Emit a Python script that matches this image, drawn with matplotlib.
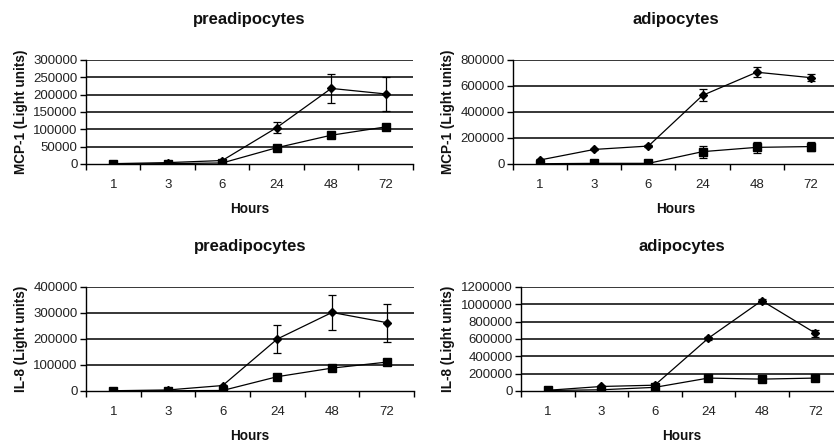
import matplotlib
matplotlib.use("Agg")
import matplotlib.pyplot as plt
from matplotlib.ticker import FixedLocator, NullFormatter

plt.rcParams['font.family'] = ['Liberation Sans', 'DejaVu Sans']

hours = ["1", "3", "6", "24", "48", "72"]

# MCP-1 preadipocytes
mcp_pre_d = [1000, 4000, 10000, 105000, 218000, 202000]
mcp_pre_d_err = [500, 1000, 2000, 17000, 43000, 48000]
mcp_pre_s = [0, 1000, 3000, 47000, 83000, 107000]
mcp_pre_s_err = [300, 500, 1000, 3000, 4000, 5000]

# MCP-1 adipocytes
mcp_adi_d = [31000, 112000, 138000, 528000, 706000, 664000]
mcp_adi_d_err = [5000, 6000, 6000, 45000, 40000, 28000]
mcp_adi_s = [2000, 5000, 5000, 95000, 128000, 134000]
mcp_adi_s_err = [1000, 2000, 2000, 47000, 40000, 32000]

# IL-8 preadipocytes
il8_pre_d = [1000, 4000, 21000, 200000, 302000, 263000]
il8_pre_d_err = [500, 1000, 3000, 55000, 68000, 73000]
il8_pre_s = [0, 1000, 2000, 55000, 88000, 111000]
il8_pre_s_err = [300, 500, 1000, 12000, 6000, 12000]

# IL-8 adipocytes
il8_adi_d = [8000, 52000, 67000, 608000, 1042000, 668000]
il8_adi_d_err = [2000, 5000, 5000, 15000, 20000, 40000]
il8_adi_s = [6000, 14000, 42000, 149000, 137000, 149000]
il8_adi_s_err = [2000, 3000, 4000, 10000, 8000, 10000]

panels = [
    dict(rect=[0.1031, 0.6298, 0.3921, 0.2348], title="preadipocytes",
         ylabel="MCP-1 (Light units)", yticks=[0, 50000, 100000, 150000, 200000, 250000, 300000],
         d=mcp_pre_d, de=mcp_pre_d_err, s=mcp_pre_s, se=mcp_pre_s_err),
    dict(rect=[0.6151, 0.6298, 0.3897, 0.2348], title="adipocytes",
         ylabel="MCP-1 (Light units)", yticks=[0, 200000, 400000, 600000, 800000],
         d=mcp_adi_d, de=mcp_adi_d_err, s=mcp_adi_s, se=mcp_adi_s_err),
    dict(rect=[0.1031, 0.1174, 0.3933, 0.2348], title="preadipocytes",
         ylabel="IL-8 (Light units)", yticks=[0, 100000, 200000, 300000, 400000],
         d=il8_pre_d, de=il8_pre_d_err, s=il8_pre_s, se=il8_pre_s_err),
    dict(rect=[0.6247, 0.1174, 0.3849, 0.2348], title="adipocytes",
         ylabel="IL-8 (Light units)", yticks=[0, 200000, 400000, 600000, 800000, 1000000, 1200000],
         d=il8_adi_d, de=il8_adi_d_err, s=il8_adi_s, se=il8_adi_s_err),
]

fig = plt.figure(figsize=(8.34, 4.43), dpi=100)
x = list(range(len(hours)))

for p in panels:
    ax = fig.add_axes(p["rect"])
    ax.errorbar(x, p["s"], yerr=p["se"], color="black", marker="s", markersize=6,
                linewidth=0.9, elinewidth=0.9, capsize=3, capthick=0.9, zorder=3)
    ax.errorbar(x, p["d"], yerr=p["de"], color="black", marker="D", markersize=4.5,
                linewidth=0.9, elinewidth=0.9, capsize=3, capthick=0.9, zorder=4)
    ax.set_xlim(-0.5, len(hours) - 0.5)
    yt = p["yticks"]
    ax.set_ylim(yt[0], yt[-1])
    ax.yaxis.set_major_locator(FixedLocator(yt))
    ax.set_yticklabels([str(v) for v in yt], fontsize=9.5, color="#222222")
    ax.xaxis.set_major_locator(FixedLocator([i - 0.5 for i in range(len(hours) + 1)]))
    ax.xaxis.set_major_formatter(NullFormatter())
    ax.xaxis.set_minor_locator(FixedLocator(x))
    ax.set_xticklabels(hours, minor=True, fontsize=9.5, color="#222222")
    ax.tick_params(axis='x', which='minor', length=0, pad=11)
    ax.tick_params(axis='x', which='major', length=4, width=1, direction='out')
    ax.tick_params(axis='y', length=4, width=1, direction='out', pad=2)
    for yv in yt[1:]:
        ax.axhline(yv, color="black", linewidth=1.1, zorder=1)
    ax.spines['top'].set_visible(False)
    ax.spines['right'].set_visible(False)
    ax.spines['left'].set_linewidth(1)
    ax.spines['bottom'].set_linewidth(1)
    ax.set_title(p["title"], fontsize=12, fontweight="bold", pad=26, color="#111111")
    ax.set_ylabel(p["ylabel"], fontsize=9.8, fontweight="bold", labelpad=4, color="#111111")
    ax.set_xlabel("Hours", fontsize=9.8, fontweight="bold", labelpad=8, color="#111111")

fig.savefig("out.png", dpi=100, facecolor="white")
